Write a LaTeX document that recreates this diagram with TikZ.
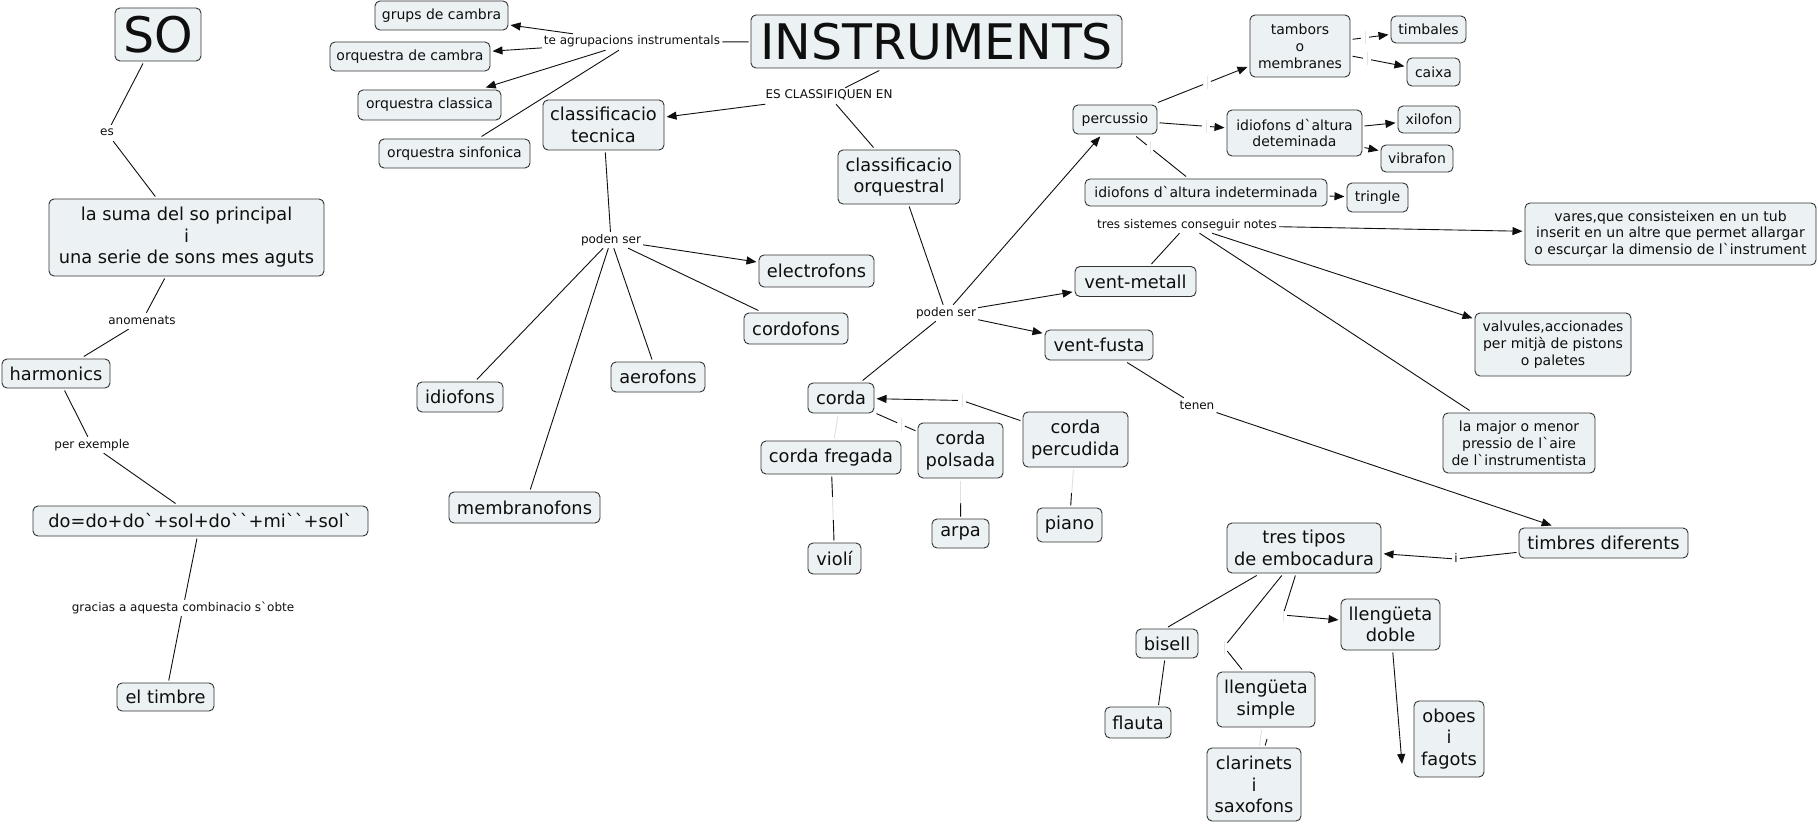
\documentclass[tikz,border=0pt]{standalone}
\usepackage{fontspec}
\setmainfont{DejaVu Sans}[Ligatures=TeXOff]
\usetikzlibrary{arrows.meta}
\definecolor{boxfill}{RGB}{236,242,244}
\definecolor{ink}{RGB}{15,15,15}
\newcommand{\fbig}{\fontsize{17.8}{21.5}\selectfont}
\newcommand{\fsmall}{\fontsize{14}{16.8}\selectfont}
\newcommand{\flab}{\fontsize{12}{14}\selectfont}
\newcommand{\fhuge}{\fontsize{49}{58}\selectfont}
\begin{document}
\begin{tikzpicture}[x=1pt,y=-1pt,
  box/.style={draw=black!80, line width=0.9pt, fill=boxfill, rounded corners=5pt, align=center, inner sep=0pt, outer sep=2.5pt, text=ink, font=\fbig},
  sbox/.style={box, font=\fsmall},
  hbox/.style={box, font=\fhuge},
  lab/.style={font=\flab, text=ink, inner xsep=2pt, inner ysep=2pt, text height=9pt, text depth=3pt},
  gap/.style={circle, minimum size=8pt, inner sep=0pt},
  gapv/.style={rectangle, minimum width=4pt, minimum height=23pt, inner sep=0pt},
  conn/.style={draw=ink, line width=0.9pt},
  arr/.style={conn, -{Triangle[length=10pt,width=8pt]}},
  faint/.style={draw=black!12, line width=0.9pt},
  tick/.style={draw=black!10, line width=0.8pt}]
\fill[white] (0,0) rectangle (1818,824);
\useasboundingbox (0,0) rectangle (1818,824);

% ---- left column
\node[hbox, minimum width=86pt, minimum height=53pt] (so) at (158,34.5) {SO};
\node[box, minimum width=275pt, minimum height=77pt] (suma) at (186.5,237.5) {la suma del so principal\\i\\una serie de sons mes aguts};
\node[box, minimum width=108pt, minimum height=29pt] (harmonics) at (56,373.5) {harmonics};
\node[box, minimum width=335pt, minimum height=30pt] (doeq) at (200.5,521) {do=do+do`+sol+do``+mi``+sol`};
\node[box, minimum width=97pt, minimum height=28pt] (timbre) at (165.5,697) {el timbre};
\node[lab] (es) at (107,133) {es};
\node[lab] (anomenats) at (142,321) {anomenats};
\node[lab] (perex) at (92,445) {per exemple};
\node[lab] (gracias) at (183,608) {gracias a aquesta combinacio s`obte};

% ---- top
\node[hbox, minimum width=371pt, minimum height=53pt] (instr) at (936.5,41.5) {INSTRUMENTS};
\node[sbox, minimum width=133pt, minimum height=29pt] (grups) at (441.5,15.5) {grups de cambra};
\node[sbox, minimum width=160pt, minimum height=29pt] (orqcambra) at (410,56.5) {orquestra de cambra};
\node[sbox, minimum width=143pt, minimum height=30pt] (orqclassica) at (429.5,105) {orquestra classica};
\node[sbox, minimum width=151pt, minimum height=29pt] (orqsinf) at (454.5,153.5) {orquestra sinfonica};
\node[lab] (teagr) at (632,42) {te agrupacions instrumentals};
\node[lab] (escl) at (829,96) {ES CLASSIFIQUEN EN};
\node[box, minimum width=121pt, minimum height=50pt] (tecnica) at (603.5,125) {classificacio\\tecnica};
\node[box, minimum width=122pt, minimum height=54pt] (orquestral) at (899,177) {classificacio\\orquestral};

% ---- classificacio tecnica
\node[lab] (podenL) at (611,240) {poden ser};
\node[box, minimum width=115pt, minimum height=32pt] (electrofons) at (816.5,271) {electrofons};
\node[box, minimum width=104pt, minimum height=31pt] (cordofons) at (796,328.5) {cordofons};
\node[box, minimum width=94pt, minimum height=30pt] (aerofons) at (658,377) {aerofons};
\node[box, minimum width=86pt, minimum height=30pt] (idiofons) at (460,397) {idiofons};
\node[box, minimum width=151pt, minimum height=31pt] (membranofons) at (524.5,507.5) {membranofons};

% ---- classificacio orquestral
\node[lab] (podenR) at (946,313) {poden ser};
\node[sbox, minimum width=84pt, minimum height=29pt] (percussio) at (1115,119.5) {percussio};
\node[sbox, minimum width=100pt, minimum height=62pt] (tambors) at (1300,46) {tambors\\o\\membranes};
\node[sbox, minimum width=75pt, minimum height=27pt] (timbales) at (1428.5,29.5) {timbales};
\node[sbox, minimum width=53pt, minimum height=28pt] (caixa) at (1433.5,72) {caixa};
\node[sbox, minimum width=135pt, minimum height=46pt] (idet) at (1294.5,133) {idiofons d`altura\\deteminada};
\node[sbox, minimum width=62pt, minimum height=27pt] (xilofon) at (1429,119.5) {xilofon};
\node[sbox, minimum width=72pt, minimum height=27pt] (vibrafon) at (1417,158.5) {vibrafon};
\node[sbox, minimum width=242pt, minimum height=27pt] (iindet) at (1206,192.5) {idiofons d`altura indeterminada};
\node[sbox, minimum width=61pt, minimum height=29pt] (tringle) at (1377.5,197.5) {tringle};
\node[lab] (tressis) at (1187,225) {tres sistemes conseguir notes};
\node[sbox, minimum width=291pt, minimum height=62pt] (vares) at (1670.5,234) {vares,que consisteixen en un tub\\inserit en un altre que permet allargar\\o escurçar la dimensio de l`instrument};
\node[box, minimum width=121pt, minimum height=30pt] (ventmetall) at (1135.5,281.5) {vent-metall};
\node[box, minimum width=108pt, minimum height=30pt] (ventfusta) at (1099,345) {vent-fusta};
\node[sbox, minimum width=156pt, minimum height=63pt] (valvules) at (1553,344.5) {valvules,accionades\\per mitjà de pistons\\o paletes};
\node[sbox, minimum width=152pt, minimum height=60pt] (lamajor) at (1519,443) {la major o menor\\pressio de l`aire\\de l`instrumentista};
\node[lab] (tenen) at (1197,406) {tenen};
\node[box, minimum width=169pt, minimum height=30pt] (timbres) at (1603.5,543) {timbres diferents};
\node[lab] (ilab) at (1456,559) {i};
\node[box, minimum width=154pt, minimum height=50pt] (trestipos) at (1304,548) {tres tipos\\de embocadura};
\node[box, minimum width=62pt, minimum height=29pt] (bisell) at (1167,643.5) {bisell};
\node[box, minimum width=66pt, minimum height=31pt] (flauta) at (1138,722.5) {flauta};
\node[box, minimum width=98pt, minimum height=55pt] (simple) at (1266,699.5) {llengüeta\\simple};
\node[box, minimum width=94pt, minimum height=73pt] (clarinets) at (1254,784.5) {clarinets\\i\\saxofons};
\node[box, minimum width=99pt, minimum height=51pt] (doble) at (1390.5,624.5) {llengüeta\\doble};
\node[box, minimum width=70pt, minimum height=76pt] (oboes) at (1449,739) {oboes\\i\\fagots};
\node[box, minimum width=66pt, minimum height=30pt] (corda) at (841,398) {corda};
\node[box, minimum width=140pt, minimum height=33pt] (fregada) at (831,457.5) {corda fregada};
\node[box, minimum width=85pt, minimum height=55pt] (polsada) at (960.5,450.5) {corda\\polsada};
\node[box, minimum width=105pt, minimum height=55pt] (percudida) at (1075.5,439.5) {corda\\percudida};
\node[box, minimum width=53pt, minimum height=31pt] (violi) at (834.5,558.5) {violí};
\node[box, minimum width=57pt, minimum height=29pt] (arpa) at (960.5,533.5) {arpa};
\node[box, minimum width=65pt, minimum height=34pt] (piano) at (1069.5,525) {piano};

% ---- empty linking phrases
\node[gap] (g1) at (1207,83) {};
\node[gap] (g2) at (1206,126.3) {};
\node[gap] (g3) at (1365,37.7) {};
\node[gap] (g4) at (1367,59) {};
\node[gap] (g5) at (1150,147.6) {};
\node[gap] (g6) at (901,424.4) {};
\node[gap] (g7) at (962,400.5) {};
\node[gapv] (g9) at (833,508.5) {};
\coordinate (g10) at (960.7,503);
\coordinate (g11) at (1071.5,493);
\coordinate (g12) at (1168,627);
\coordinate (g13) at (1158.5,705);
\node[gap, minimum size=10pt] (g14) at (1224,647) {};
\coordinate (g15) at (1267,739);
\node[gap] (g16) at (1283,615) {};
\coordinate (g17) at (1402,764);
\foreach \g in {g1,g2,g3,g4,g5,g6,g7,g14,g16}
  \draw[tick] ([yshift=6.5pt]\g.center) -- ([yshift=-6.5pt]\g.center);

% ---- connectors: left column
\draw[conn] (so) -- (es);
\draw[conn] (es) -- (suma);
\draw[conn] (suma) -- (anomenats);
\draw[conn] (anomenats) -- (harmonics);
\draw[conn] (harmonics) -- (perex);
\draw[conn] (perex) -- (doeq);
\draw[conn] (doeq) -- (gracias);
\draw[conn] (gracias) -- (timbre);

% ---- connectors: top
\draw[conn] (instr) -- (teagr);
\draw[arr] (teagr) -- (grups);
\draw[arr] (teagr) -- (orqcambra);
\draw[arr] (teagr) -- (orqclassica);
\draw[conn] (teagr) -- (orqsinf);
\draw[conn] (instr) -- (escl);
\draw[arr] (escl) -- (tecnica);
\draw[conn] (escl) -- (orquestral);

% ---- connectors: tecnica
\draw[conn] (tecnica) -- (podenL);
\draw[arr] (podenL) -- (electrofons);
\draw[conn] (podenL) -- (cordofons);
\draw[conn] (podenL) -- (aerofons);
\draw[conn] (podenL) -- (idiofons);
\draw[conn] (podenL) -- (membranofons);

% ---- connectors: orquestral
\draw[conn] (orquestral) -- (podenR);
\draw[arr] (podenR) -- (percussio);
\draw[arr] (podenR) -- (ventmetall);
\draw[arr] (podenR) -- (ventfusta);
\draw[conn] (podenR) -- (corda);

\draw[conn] (percussio) -- (g1);
\draw[arr] (g1) -- (tambors);
\draw[conn] (percussio) -- (g2);
\draw[arr] (g2) -- (idet);
\draw[conn] (tambors) -- (g3);
\draw[arr] (g3) -- (timbales);
\draw[conn] (tambors) -- (g4);
\draw[arr] (g4) -- (caixa);
\draw[arr] (idet) -- (xilofon);
\draw[arr] (idet) -- (vibrafon);
\draw[conn] (percussio) -- (g5);
\draw[conn] (g5) -- (iindet);
\draw[arr] (iindet) -- (tringle);

\draw[conn] (ventmetall) -- (tressis);
\draw[arr] (tressis) -- (vares);
\draw[arr] (tressis) -- (valvules);
\draw[conn] (tressis) -- (lamajor);

\draw[conn] (ventfusta) -- (tenen);
\draw[arr] (tenen) -- (timbres);
\draw[conn] (timbres) -- (ilab);
\draw[arr] (ilab) -- (trestipos);
\draw[conn] (trestipos) -- (g12);
\draw[conn] (bisell) -- (g13);
\draw[conn] (trestipos) -- (g14);
\draw[conn] (g14) -- (simple);
\draw[faint] (simple) -- (clarinets);
\draw[conn] (g15) -- (clarinets);
\draw[conn] (trestipos) -- (g16);
\draw[arr] (g16) -- (doble);
\draw[arr] (doble) -- (g17);

% ---- corda
\draw[conn] (corda) -- (g6);
\draw[conn] (g6) -- (polsada);
\draw[conn] (percudida) -- (g7);
\draw[arr] (g7) -- (corda);
\draw[faint] (corda) -- (fregada);
\draw[faint] (fregada) -- (violi);
\draw[conn] (fregada) -- (g9);
\draw[conn] (g9) -- (violi);
\draw[faint] (polsada) -- (arpa);
\draw[conn] (g10) -- (arpa);
\draw[faint] (percudida) -- (piano);
\draw[conn] (g11) -- (piano);
\end{tikzpicture}
\end{document}
